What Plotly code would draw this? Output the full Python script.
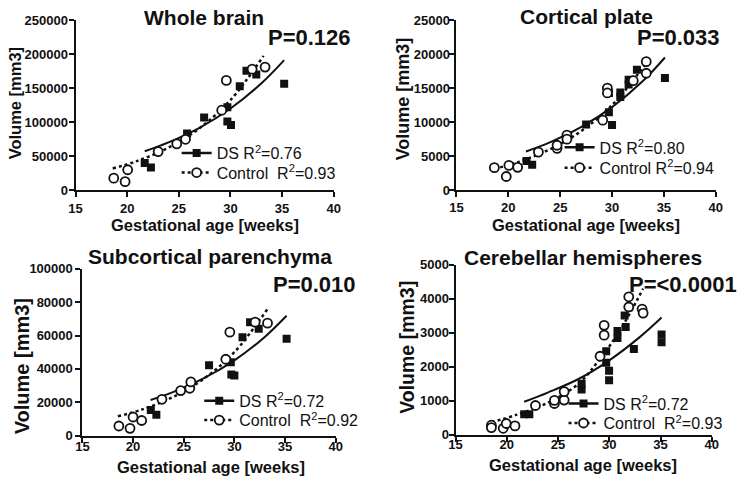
import plotly.graph_objects as go

# ---------------- Data ----------------
x_tick_vals = [15, 20, 25, 30, 35, 40]

panel_titles = ["Whole brain", "Cortical plate", "Subcortical parenchyma", "Cerebellar hemispheres"]
p_values = ["P=0.126", "P=0.033", "P=0.010", "P=<0.0001"]
ds_labels = ["DS R<sup>2</sup>=0.76", "DS R<sup>2</sup>=0.80", "DS R<sup>2</sup>=0.72", "DS R<sup>2</sup>=0.72"]
ctl_labels = ["Control  R<sup>2</sup>=0.93", "Control R<sup>2</sup>=0.94", "Control  R<sup>2</sup>=0.92", "Control  R<sup>2</sup>=0.93"]
x_title = "Gestational age [weeks]"
y_title = "Volume [mm3]"
y_max = [250000, 25000, 100000, 5000]
y_dtick = [50000, 5000, 20000, 1000]

# Whole brain
wb_ds_x = [21.7, 22.3, 25.8, 27.45, 29.7, 29.7, 30.05, 30.9, 31.55, 32.5, 35.2]
wb_ds_y = [40000, 33300, 83300, 107000, 122000, 101000, 95700, 152900, 175700, 170000, 156700]
wb_ctl_x = [18.7, 19.8, 20.05, 23.0, 24.8, 25.65, 29.15, 29.6, 32.1, 33.35]
wb_ctl_y = [17600, 12400, 30000, 56700, 68100, 74800, 117600, 161400, 178000, 181000]
wb_dsfit_x = [21.7, 24, 27, 30, 33, 35.2]
wb_dsfit_y = [57100, 70200, 91700, 120100, 157300, 191400]
wb_ctlfit_x = [18.6, 21, 24, 27, 30, 33.2]
wb_ctlfit_y = [31900, 43000, 62600, 91100, 132500, 197500]

# Cortical plate
cp_ds_x = [21.75, 22.3, 27.5, 29.7, 29.7, 30.0, 30.8, 30.8, 31.6, 31.6, 32.4, 35.1]
cp_ds_y = [4300, 3750, 9650, 14300, 11450, 9600, 14350, 13700, 16250, 15550, 17700, 16500]
cp_ctl_x = [18.65, 19.8, 20.05, 20.9, 22.9, 24.7, 24.7, 25.65, 25.65, 29.1, 29.55, 29.55, 32.05, 33.3, 33.3]
cp_ctl_y = [3300, 2000, 3650, 3350, 5600, 6150, 6600, 8100, 7500, 10300, 15000, 14300, 16100, 18900, 17200]
cp_dsfit_x = [21.7, 24, 27, 30, 33, 35.1]
cp_dsfit_y = [5690, 7030, 9260, 12210, 16090, 19520]
cp_ctlfit_x = [18.6, 21, 24, 27, 30, 33.2]
cp_ctlfit_y = [3100, 4160, 6000, 8660, 12500, 18500]

# Subcortical parenchyma
sp_ds_x = [21.75, 22.3, 27.5, 29.65, 29.7, 30.0, 30.8, 31.55, 32.4, 35.15]
sp_ds_y = [15400, 12500, 42200, 44000, 36600, 36000, 58900, 68000, 64100, 58000]
sp_ctl_x = [18.6, 19.7, 20.0, 20.85, 22.85, 24.7, 25.6, 25.7, 29.15, 29.55, 32.05, 33.27]
sp_ctl_y = [5800, 4400, 11200, 9100, 21800, 27000, 28400, 32200, 45800, 62000, 68000, 67400]
sp_dsfit_x = [21.73, 24, 27, 30, 33, 35.15]
sp_dsfit_y = [21400, 26260, 34430, 45120, 59140, 71800]
sp_ctlfit_x = [18.5, 21, 24, 27, 30, 33.37]
sp_ctlfit_y = [11600, 15940, 23340, 34180, 50030, 76800]

# Cerebellar hemispheres
ch_ds_x = [21.7, 22.2, 27.3, 27.3, 29.7, 29.7, 29.98, 29.98, 30.8, 30.8, 31.5, 31.6, 32.4, 35.1, 35.1]
ch_ds_y = [600, 600, 1330, 1500, 2460, 2120, 1880, 1600, 3050, 2850, 3510, 3170, 2520, 2950, 2720]
ch_ctl_x = [18.5, 18.5, 19.65, 19.95, 20.8, 22.8, 24.65, 24.65, 25.6, 25.6, 29.1, 29.5, 29.5, 31.9, 31.9, 33.2, 33.3]
ch_ctl_y = [280, 210, 190, 330, 260, 860, 920, 1010, 1020, 1270, 2310, 3220, 2930, 4060, 3760, 3700, 3580]
ch_dsfit_x = [21.7, 24, 27, 30, 33, 35.1]
ch_dsfit_y = [970, 1240, 1640, 2190, 2880, 3450]
ch_ctlfit_x = [18.5, 21, 24, 27, 29, 31, 33.3]
ch_ctlfit_y = [370, 590, 940, 1500, 2200, 3050, 4300]

panels = [
    (wb_ds_x, wb_ds_y, wb_ctl_x, wb_ctl_y, wb_dsfit_x, wb_dsfit_y, wb_ctlfit_x, wb_ctlfit_y),
    (cp_ds_x, cp_ds_y, cp_ctl_x, cp_ctl_y, cp_dsfit_x, cp_dsfit_y, cp_ctlfit_x, cp_ctlfit_y),
    (sp_ds_x, sp_ds_y, sp_ctl_x, sp_ctl_y, sp_dsfit_x, sp_dsfit_y, sp_ctlfit_x, sp_ctlfit_y),
    (ch_ds_x, ch_ds_y, ch_ctl_x, ch_ctl_y, ch_dsfit_x, ch_dsfit_y, ch_ctlfit_x, ch_ctlfit_y),
]

# ---------------- Layout geometry (pixels of the 750x488 view) ----------------
VW, VH = 750, 488
PAD = 12                     # off-screen border so edge texts are not pushed inward
W, H = VW + 2 * PAD, VH + 2 * PAD
# plot area pixel boxes: (left, right, top, bottom)
boxes = [(70, 333, 14, 189), (458, 722, 14, 189), (77, 335, 270, 442), (457, 718, 266, 441)]
title_pos = [(201, 11), (590, 10), (207, 257), (587, 258)]
p_pos = [(352, 32), (727, 32), (357, 286), (745, 286)]
xtitle_pos = [(202, 225), (590, 225), (208, 474), (587, 472)]
ytitle_pos = [(8, 100), (403, 95), (15, 371), (408, 351)]
ytitle_size = [16.5, 18, 20, 19.5]
x_label_shift = [0, -1, -7, -8]
y_label_shift = [-2, -3, 0, -3]
# legend: (left x of symbol line, centre y of DS row, centre y of Control row)
legend_pos = [(190, 151, 171), (580, 145, 166), (213, 406, 426), (584, 409, 429)]

FONT = "Liberation Sans, Arial, sans-serif"
BLACK = "#111111"

fig = go.Figure()
annotations = []
layout = {}

def px_x(v):
    return (v + PAD) / W

def px_y(v):
    return 1 - (v + PAD) / H

LEG_OFFSET = 17  # px from legend box left to start of symbol line

for i, (dsx, dsy, cx, cy, dfx, dfy, cfx, cfy) in enumerate(panels):
    n = "" if i == 0 else str(i + 1)
    xa, ya = "x" + n, "y" + n
    lg_ds = "legend" + ("" if i == 0 else str(2 * i + 1))
    lg_ct = "legend" + str(2 * i + 2)
    l, r, t, b = boxes[i]
    layout["xaxis" + n] = dict(
        domain=[px_x(l), px_x(r)], anchor=ya, range=[15, 40], tickvals=x_tick_vals,
        showgrid=False, zeroline=False, showline=True, linecolor=BLACK, linewidth=2,
        ticks="outside", ticklen=5, tickwidth=2, tickcolor=BLACK,
        ticklabelstandoff=x_label_shift[i],
        tickfont=dict(family=FONT, size=13, color=BLACK, weight="bold"),
    )
    layout["yaxis" + n] = dict(
        domain=[px_y(b), px_y(t)], anchor=xa, range=[0, y_max[i]], dtick=y_dtick[i],
        tickformat="d", showgrid=False, zeroline=False, showline=True, linecolor=BLACK,
        linewidth=2, ticks="outside", ticklen=5, tickwidth=2, tickcolor=BLACK,
        ticklabelstandoff=y_label_shift[i],
        tickfont=dict(family=FONT, size=13, color=BLACK, weight="bold"),
    )
    lx, ly1, ly2 = legend_pos[i]
    for lg, ly in ((lg_ds, ly1), (lg_ct, ly2)):
        layout[lg] = dict(
            x=px_x(lx - LEG_OFFSET), y=px_y(ly), xanchor="left", yanchor="middle",
            bgcolor="rgba(0,0,0,0)", font=dict(family=FONT, size=16, color=BLACK),
            itemwidth=30, tracegroupgap=0, borderwidth=0,
        )
    # fit lines
    fig.add_trace(go.Scatter(x=dfx, y=dfy, mode="lines", line=dict(color=BLACK, width=2, shape="spline"),
                             xaxis=xa, yaxis=ya, showlegend=False, hoverinfo="skip"))
    fig.add_trace(go.Scatter(x=cfx, y=cfy, mode="lines", line=dict(color=BLACK, width=2.5, dash="dot", shape="spline"),
                             xaxis=xa, yaxis=ya, showlegend=False, hoverinfo="skip"))
    # points
    fig.add_trace(go.Scatter(x=dsx, y=dsy, mode="markers",
                             marker=dict(symbol="square", size=8, color=BLACK, line=dict(width=0)),
                             xaxis=xa, yaxis=ya, showlegend=False))
    fig.add_trace(go.Scatter(x=cx, y=cy, mode="markers",
                             marker=dict(symbol="circle", size=9, color="white", line=dict(width=1.8, color=BLACK)),
                             xaxis=xa, yaxis=ya, showlegend=False))
    # legend entries
    fig.add_trace(go.Scatter(x=[None], y=[None], mode="lines+markers", name=ds_labels[i],
                             line=dict(color=BLACK, width=2.5),
                             marker=dict(symbol="square", size=8, color=BLACK),
                             xaxis=xa, yaxis=ya, legend=lg_ds, showlegend=True))
    fig.add_trace(go.Scatter(x=[None], y=[None], mode="lines+markers", name=ctl_labels[i],
                             line=dict(color=BLACK, width=2.5, dash="dot"),
                             marker=dict(symbol="circle", size=9, color="white", line=dict(width=1.8, color=BLACK)),
                             xaxis=xa, yaxis=ya, legend=lg_ct, showlegend=True))

    tx, ty = title_pos[i]
    annotations.append(dict(text=panel_titles[i], x=px_x(tx), y=px_y(ty), xref="paper", yref="paper",
                            xanchor="center", yanchor="middle", showarrow=False, borderpad=0,
                            font=dict(family=FONT, size=21, color=BLACK, weight="bold")))
    pxp, pyp = p_pos[i]
    annotations.append(dict(text=p_values[i], x=px_x(pxp), y=px_y(pyp), xref="paper", yref="paper",
                            xanchor="right", yanchor="middle", showarrow=False, borderpad=0,
                            font=dict(family=FONT, size=22, color=BLACK, weight="bold")))
    xtx, xty = xtitle_pos[i]
    annotations.append(dict(text=x_title, x=px_x(xtx), y=px_y(xty), xref="paper", yref="paper",
                            xanchor="center", yanchor="middle", showarrow=False, borderpad=0,
                            font=dict(family=FONT, size=16.5, color=BLACK, weight="bold")))
    ytx, yty = ytitle_pos[i]
    annotations.append(dict(text=y_title, x=px_x(ytx), y=px_y(yty), xref="paper", yref="paper",
                            xanchor="center", yanchor="middle", showarrow=False, textangle=-90, borderpad=0,
                            font=dict(family=FONT, size=ytitle_size[i], color=BLACK, weight="bold")))

fig.update_layout(
    width=W, height=H, margin=dict(l=0, r=0, t=0, b=0),
    paper_bgcolor="white", plot_bgcolor="white",
    annotations=annotations, **layout,
)

fig.write_html(
    "out.html", config={"displayModeBar": False},
    post_script=(
        "document.documentElement.style.overflow='hidden';"
        "document.body.style.overflow='hidden';"
        "document.body.style.margin='-%dpx 0 0 -%dpx';" % (PAD, PAD)
    ),
)
